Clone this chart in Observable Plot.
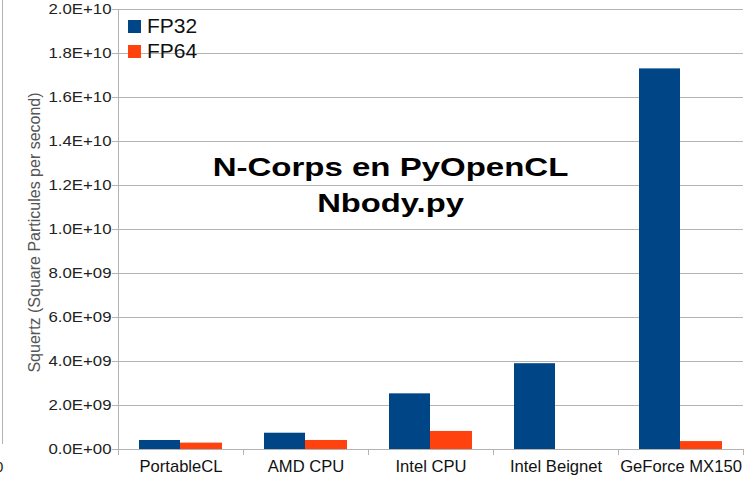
<!DOCTYPE html>
<html><head><meta charset="utf-8">
<script src="https://cdn.jsdelivr.net/npm/d3@7"></script>
<script src="https://cdn.jsdelivr.net/npm/@observablehq/plot@0.6"></script>
<style>
html,body{margin:0;padding:0;background:#fff;}
#wrap{position:relative;width:749px;height:485px;overflow:hidden;background:#fff;}
.leg{position:absolute;left:128px;height:26px;font:21px "Liberation Sans",Arial,sans-serif;color:#111;white-space:nowrap;}
.leg span.sw{display:inline-block;width:13px;height:13px;vertical-align:0px;margin-right:6px;}
#edge{position:absolute;left:2px;top:0;width:1px;height:444px;background:#b3b3b3;}
#edge0{position:absolute;left:-5px;top:458px;font:15px "Liberation Sans",Arial,sans-serif;color:#222;}
</style></head><body><div id="wrap"><div id="edge"></div><div id="edge0">0</div></div>
<script>
const categories = ["PortableCL", "AMD CPU", "Intel CPU", "Intel Beignet", "GeForce MX150"];
const series = ["FP32", "FP64"];
const fp32 = [4.1e8, 7.4e8, 2.53e9, 3.9e9, 1.73e10];
const fp64 = [2.9e8, 4.1e8, 8.2e8, null, 3.6e8];
const colors = ["#004586", "#ff420e"];
const yTicks = [0, 2e9, 4e9, 6e9, 8e9, 1e10, 1.2e10, 1.4e10, 1.6e10, 1.8e10, 2e10];
const yTickLabels = ["0.0E+00", "2.0E+09", "4.0E+09", "6.0E+09", "8.0E+09", "1.0E+10", "1.2E+10", "1.4E+10", "1.6E+10", "1.8E+10", "2.0E+10"];
const titleLines = ["N-Corps en PyOpenCL", "Nbody.py"];
const yLabel = "Squertz (Square Particules per second)";

const rows = categories.map((c, i) => ({category: c, fp32: fp32[i], fp64: fp64[i]}));
const grey = "#b3b3b3";
const titleFont = {fontSize: 26.5, fontWeight: "bold", fontFamily: '"Liberation Sans", Arial, sans-serif', fill: "#000", frameAnchor: "top-left", textAnchor: "middle", lineAnchor: "middle", dx: 272};

const chart = Plot.plot({
  width: 749, height: 485,
  marginLeft: 118, marginRight: 6, marginTop: 9, marginBottom: 36,
  style: {fontFamily: '"Liberation Sans", Arial, sans-serif', background: "transparent", overflow: "visible"},
  x: {type: "band", domain: categories, padding: 0, axis: null, label: null},
  y: {domain: [0, 2e10], axis: null, label: null},
  marks: [
    Plot.gridY(yTicks, {stroke: grey, strokeOpacity: 1}),
    Plot.barY(rows, {x: "category", y: "fp32", fill: colors[0], insetLeft: 21, insetRight: 63}),
    Plot.barY(rows.filter(d => d.fp64 != null), {x: "category", y: "fp64", fill: colors[1], insetLeft: 62, insetRight: 21}),
    Plot.ruleY([0], {stroke: grey}),
    Plot.frame({anchor: "left", stroke: grey}),
    Plot.axisY(yTicks, {tickSize: 6, label: null, tickFormat: () => "", stroke: grey}),
    Plot.text(yTicks, {y: d => d, text: d => yTickLabels[yTicks.indexOf(d)], frameAnchor: "left", textAnchor: "end", dx: -7, fontSize: 15, fill: "#222"}),
    Plot.axisX(categories, {tickSize: 6, dx: -62.5, label: null, tickFormat: () => "", stroke: grey}),
    Plot.axisX([categories[categories.length - 1]], {tickSize: 6, dx: 62.5, label: null, tickFormat: () => "", stroke: grey}),
    Plot.axisX(categories, {tickSize: 0, tickPadding: 11, label: null, fontSize: 16.6, fill: "#111"}),
    Plot.text([titleLines[0]], {...titleFont, dy: 158}),
    Plot.text([titleLines[1]], {...titleFont, dy: 194}),
    Plot.text([yLabel], {frameAnchor: "left", textAnchor: "middle", rotate: -90, dx: -84, dy: 3, fontSize: 16, fill: "#555"})
  ]
});
const wrap = document.getElementById("wrap");
wrap.appendChild(chart);
series.forEach((s, i) => {
  const d = document.createElement("div");
  d.className = "leg";
  d.style.top = (14 + i * 25) + "px";
  d.innerHTML = `<span class="sw" style="background:${colors[i]}"></span>${s}`;
  wrap.appendChild(d);
});
// the reference's lettering is horizontally widened; stretch glyphs to match
function widen(labels, k) {
  chart.querySelectorAll("text").forEach(t => {
    const s = t.textContent.trim();
    if (!labels.includes(s)) return;
    const w = t.getComputedTextLength();
    if (w > 0) { t.setAttribute("textLength", (w * k).toFixed(1)); t.setAttribute("lengthAdjust", "spacingAndGlyphs"); }
  });
}
widen([titleLines[0]], 1.245);
widen([titleLines[1]], 1.235);
widen(yTickLabels, 1.12);
</script>
</body></html>
